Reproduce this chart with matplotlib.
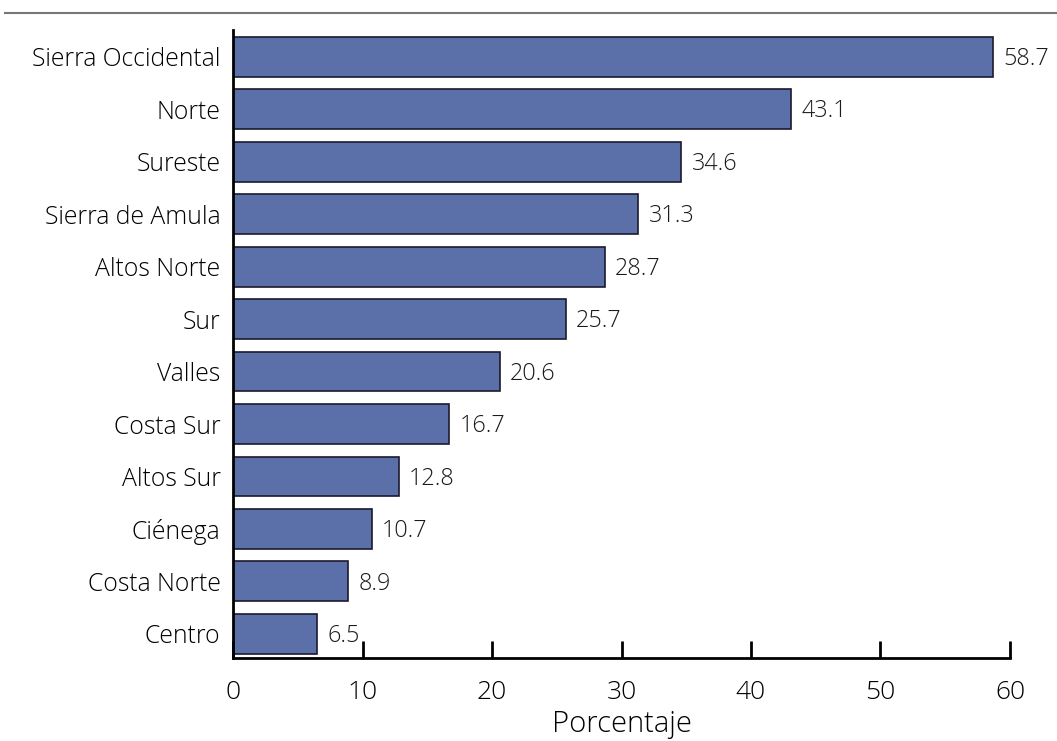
import matplotlib
matplotlib.use("Agg")
import matplotlib.pyplot as plt
from matplotlib.lines import Line2D

regions = ["Centro", "Costa Norte", "Ciénega", "Altos Sur", "Costa Sur", "Valles",
           "Sur", "Altos Norte", "Sierra de Amula", "Sureste", "Norte", "Sierra Occidental"]
values = [6.5, 8.9, 10.7, 12.8, 16.7, 20.6, 25.7, 28.7, 31.3, 34.6, 43.1, 58.7]
xticks = [0, 10, 20, 30, 40, 50, 60]

plt.rcParams['font.family'] = ['Open Sans', 'DejaVu Sans']
plt.rcParams['font.weight'] = 'light'

fig = plt.figure(figsize=(10.57, 7.41), dpi=100)
ax = fig.add_axes([233/1057, 1-658/741, (1010-233)/1057, (658-30)/741])

y = list(range(len(regions)))
ax.barh(y, values, height=0.76, color='#5b6fa8', edgecolor='#1a1a2e', linewidth=1.2)
for yi, v in zip(y, values):
    ax.text(v + 0.8, yi - 0.04, f"{v:.1f}", va='center', ha='left', fontsize=16.8,
            color='#1a1a1a', fontweight='light')

ax.set_xlim(0, 60)
ax.set_ylim(-0.46, 11.51)
ax.set_yticks(y)
ax.set_yticklabels(regions, fontsize=17.8, fontweight='light')
ax.set_xticks(xticks)
ax.set_xticklabels([str(t) for t in xticks], fontsize=19, fontweight='light')
ax.tick_params(axis='y', length=0, pad=9)
ax.tick_params(axis='x', direction='in', length=12, width=2, pad=16)
ax.set_xlabel("Porcentaje", fontsize=21, labelpad=3, fontweight='light')
for s in ['top', 'right']:
    ax.spines[s].set_visible(False)
for s in ['left', 'bottom']:
    ax.spines[s].set_linewidth(2)
ax.set_facecolor('white')

fig.add_artist(Line2D([5/1057, 1], [1-13/741, 1-13/741], color='#777777', linewidth=1.5))

fig.savefig("out.png", dpi=100)
